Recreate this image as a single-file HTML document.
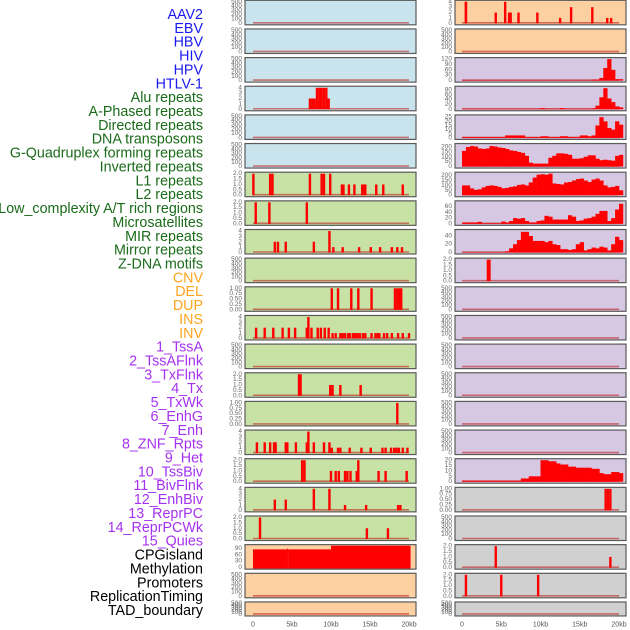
<!DOCTYPE html>
<html><head><meta charset="utf-8">
<style>
html,body{margin:0;padding:0;background:#fff;}
svg{display:block;font-family:"Liberation Sans",sans-serif;}
</style></head>
<body>
<svg id="chart" width="630" height="630" viewBox="0 0 630 630" xmlns="http://www.w3.org/2000/svg"></svg>
<script>
// ---------- data ----------
const labelNames=["AAV2","EBV","HBV","HIV","HPV","HTLV-1","Alu repeats","A-Phased repeats","Directed repeats","DNA transposons","G-Quadruplex forming repeats","Inverted repeats","L1 repeats","L2 repeats","Low_complexity A/T rich regions","Microsatellites","MIR repeats","Mirror repeats","Z-DNA motifs","CNV","DEL","DUP","INS","INV","1_TssA","2_TssAFlnk","3_TxFlnk","4_Tx","5_TxWk","6_EnhG","7_Enh","8_ZNF_Rpts","9_Het","10_TssBiv","11_BivFlnk","12_EnhBiv","13_ReprPC","14_ReprPCWk","15_Quies","CPGisland","Methylation","Promoters","ReplicationTiming","TAD_boundary"];
const xTickKb=[0,5,10,15,20];
const xTickLabels=["0","5kb","10kb","15kb","20kb"];
const ticksEmpty=[0,100,200,300,400,500];
const ticks4=[0,1,2,3,4];
const ticks2=[0,0.5,1,1.5,2];
const ticks1=[0,0.25,0.5,0.75,1];

const r0RPos=[0.5,0.5,4.3,5.5,6.0,6.2,7.2,9.6,12.5,13.9,16.6,18.5,19.0];
const r0RVal=[4,4,2,4,2,2,2,2,1,3,3,1,1];
const r3LPos=[7.3,7.6,7.9,8.2,8.5,8.8,9.1,9.4,9.7];
const r3LVal=[2,2,2,4,4,4,4,4,2];
const r6LPos=[0.05,2.2,2.5,7.3,8.8,9.1,9.9,11.4,11.6,12.3,13.0,14.0,14.2,14.4,15.8,16.7,19.2];
const r6LVal=[2,2,2,2,2,2,2,1,1,1,1,1,1,1,1,1,1];
const r7LPos=[0.35,2.1,6.9];
const r7LVal=[2,2,2];
const r8LPos=[2.8,3.2,4.2,7.8,9.8,10.3,11.5,13.6,15.1,16.3,17.8,18.5,19.1];
const r8LVal=[2,2,2,2,4,1,1,1,1,1,1,1,1];
const r9RPos=[3.3,3.5];
const r9RVal=[2,2];
const r10LPos=[10.1,10.9,12.6,13.5,15.2,18.2,18.5,18.8,19.0];
const r10LVal=[1,1,1,1,1,1,1,1,1];
const r11LPos=[0.4,1.5,2.6,3.8,4.6,5.4,6.9,7.1,7.5,8.3,8.7,9.2,9.7,10.2,10.6,11.2,11.5,11.8,12.2,12.4,12.8,13.1,13.4,13.7,14.1,14.4,15.2,15.7,16.0,16.2,16.8,17.2,17.8,18.6,19.2,20.0];
const r11LVal=[2,2,2,2,2,2,2,4,2,2,2,2,2,1,1,1,1,1,1,1,1,1,1,1,1,1,1,1,1,1,1,1,1,1,1,1];
const r13LPos=[5.9,6.1,9.9,10.2,11.2,13.8];
const r13LVal=[2,2,1,1,1,1];
const r14LPos=[18.5];
const r14LVal=[1];
const r15LPos=[0.5,1.5,2.2,2.7,2.9,4.2,4.4,5.5,6.9,7.1,7.8,9.1,9.8,10.1,10.9,11.2,12.4,13.9,15.1,16.6,17.0,17.7,18.1,18.4,18.7,19.2,19.8];
const r15LVal=[2,2,2,2,2,2,2,2,2,4,2,2,2,1,1,1,1,1,1,1,1,1,1,1,1,1,1];
const r16LPos=[6.3,6.6,10.0,10.6,11.0,11.8,12.1,12.5,13.3,13.5,16.1,17.0,19.7];
const r16LVal=[2,2,1,1,1,1,1,1,1,2,1,1,1];
const r17LPos=[2.8,4.2,7.8,9.8,11.8,14.5,18.6,18.9];
const r17LVal=[2,2,4,4,1,1,1,1];
const r17RPos=[18.3,18.6,18.9];
const r17RVal=[1,1,1];
const r18LPos=[0.9,14.6,17.3];
const r18LVal=[2,1,1];
const r19RPos=[4.3,18.9];
const r19RVal=[2,1];
const r20RPos=[0.5,5.0,9.7];
const r20RVal=[2,2,2];
const cpgStart=[0,4.35,4.5,10];
const cpgEnd=[4.35,4.5,10,20.2];
const cpgVal=[85,88,85,102];

const r2RProf=[2,2,2,2,2,2,2,2,2,2,2,2,2,2,2,2,2,2,2,2,2,2,2,2,2,2,2,2,2,2,2,2,2,5,5,15,70,120,60,8,8];
const r3RProf=[2,2,2,2,2,2,2,2,2,2,2,2,2,2,2,2,2,2,2,2,5,2,2,2,2,5,2,2,2,2,2,2,2,4,15,50,88,45,30,12,8];
const r4RProf=[1,1,1,1,1,1,1,1,1,1,1,3,3,3,3,3,1,1,1,1,2,2,1,1,1,2,2,1,1,1,3,3,2,3,15,25,20,12,10,20,16];
const r5RProf=[160,200,210,205,185,180,185,210,205,195,190,180,165,160,150,140,110,40,30,30,30,30,90,110,135,135,130,120,80,80,85,100,115,115,80,65,70,65,60,110,120];
const r6RProf=[100,100,70,55,60,80,95,100,95,85,70,75,85,90,105,110,100,130,180,210,215,210,220,120,115,110,130,135,150,165,170,150,135,160,170,150,100,80,85,95,50];
const r7RProf=[5,5,5,5,7,2,2,2,2,2,8,5,10,20,18,20,10,5,5,10,12,28,25,15,15,15,15,30,25,10,12,18,20,25,35,45,45,10,20,50,70];
const r8RProf=[1,1,1,1,1,1,1,1,1,1,1,3,10,20,30,50,50,40,28,28,28,25,28,20,18,8,8,6,8,20,25,5,8,12,10,14,12,5,20,38,30];
const r16RProf=[1,1,1,1,1,1,1,1,1,1,1,1,1,1,1,3,3,5,5,5,20,20,19,19,17,16,16,14,14,13,13,13,13,12,12,8,7,7,9,9,8];

const BG={blue:"#c9e4ec",green:"#c8e1a5",peach:"#fdd0a1",purple:"#d6c7e3",gray:"#d0d0d0"};
const panels=[
 {row:0,side:0,bg:"blue",ymax:500,ticks:ticksEmpty},
 {row:0,side:1,bg:"peach",ymax:4,ticks:ticks4,pos:r0RPos,val:r0RVal},
 {row:1,side:0,bg:"blue",ymax:500,ticks:ticksEmpty},
 {row:1,side:1,bg:"peach",ymax:500,ticks:ticksEmpty},
 {row:2,side:0,bg:"blue",ymax:500,ticks:ticksEmpty},
 {row:2,side:1,bg:"purple",ymax:120,ticks:[0,30,60,90,120],prof:r2RProf},
 {row:3,side:0,bg:"blue",ymax:4,ticks:ticks4,pos:r3LPos,val:r3LVal},
 {row:3,side:1,bg:"purple",ymax:90,ticks:[0,20,40,60,80],prof:r3RProf},
 {row:4,side:0,bg:"blue",ymax:500,ticks:ticksEmpty},
 {row:4,side:1,bg:"purple",ymax:26,ticks:[0,5,10,15,20,25],prof:r4RProf},
 {row:5,side:0,bg:"blue",ymax:500,ticks:ticksEmpty},
 {row:5,side:1,bg:"purple",ymax:220,ticks:[0,50,100,150,200],prof:r5RProf},
 {row:6,side:0,bg:"green",ymax:2,ticks:ticks2,pos:r6LPos,val:r6LVal},
 {row:6,side:1,bg:"purple",ymax:220,ticks:[0,50,100,150,200],prof:r6RProf},
 {row:7,side:0,bg:"green",ymax:2,ticks:ticks2,pos:r7LPos,val:r7LVal},
 {row:7,side:1,bg:"purple",ymax:75,ticks:[0,20,40,60],prof:r7RProf},
 {row:8,side:0,bg:"green",ymax:4,ticks:ticks4,pos:r8LPos,val:r8LVal},
 {row:8,side:1,bg:"purple",ymax:52,ticks:[0,20,40],prof:r8RProf},
 {row:9,side:0,bg:"green",ymax:500,ticks:ticksEmpty},
 {row:9,side:1,bg:"purple",ymax:2,ticks:ticks2,pos:r9RPos,val:r9RVal},
 {row:10,side:0,bg:"green",ymax:1,ticks:ticks1,pos:r10LPos,val:r10LVal},
 {row:10,side:1,bg:"purple",ymax:500,ticks:ticksEmpty},
 {row:11,side:0,bg:"green",ymax:4,ticks:ticks4,pos:r11LPos,val:r11LVal},
 {row:11,side:1,bg:"purple",ymax:500,ticks:ticksEmpty},
 {row:12,side:0,bg:"green",ymax:500,ticks:ticksEmpty},
 {row:12,side:1,bg:"purple",ymax:500,ticks:ticksEmpty},
 {row:13,side:0,bg:"green",ymax:2,ticks:ticks2,pos:r13LPos,val:r13LVal},
 {row:13,side:1,bg:"purple",ymax:500,ticks:ticksEmpty},
 {row:14,side:0,bg:"green",ymax:1,ticks:ticks1,pos:r14LPos,val:r14LVal},
 {row:14,side:1,bg:"purple",ymax:500,ticks:ticksEmpty},
 {row:15,side:0,bg:"green",ymax:4,ticks:ticks4,pos:r15LPos,val:r15LVal},
 {row:15,side:1,bg:"purple",ymax:500,ticks:ticksEmpty},
 {row:16,side:0,bg:"green",ymax:2,ticks:ticks2,pos:r16LPos,val:r16LVal},
 {row:16,side:1,bg:"purple",ymax:20,ticks:[0,5,10,15,20],prof:r16RProf},
 {row:17,side:0,bg:"green",ymax:4,ticks:ticks4,pos:r17LPos,val:r17LVal},
 {row:17,side:1,bg:"gray",ymax:1,ticks:ticks1,pos:r17RPos,val:r17RVal},
 {row:18,side:0,bg:"green",ymax:2,ticks:ticks2,pos:r18LPos,val:r18LVal},
 {row:18,side:1,bg:"gray",ymax:500,ticks:ticksEmpty},
 {row:19,side:0,bg:"peach",ymax:100,ticks:[0,30,60,90],cpg:true},
 {row:19,side:1,bg:"gray",ymax:2,ticks:ticks2,pos:r19RPos,val:r19RVal},
 {row:20,side:0,bg:"peach",ymax:500,ticks:ticksEmpty},
 {row:20,side:1,bg:"gray",ymax:2,ticks:ticks2,pos:r20RPos,val:r20RVal},
 {row:21,side:0,bg:"peach",ymax:500,ticks:ticksEmpty,short:true},
 {row:21,side:1,bg:"gray",ymax:500,ticks:ticksEmpty,short:true}
];
const labelColors=["#1a1af0","#1a6b1a","#ffa51f","#a531f0","#000"];
function labelColor(i){return i<6?labelColors[0]:i<19?labelColors[1]:i<24?labelColors[2]:i<39?labelColors[3]:labelColors[4];}

const NS="http://www.w3.org/2000/svg";
const svg=document.getElementById("chart");
function mk(tag,attrs,parent){const e=document.createElementNS(NS,tag);for(const k in attrs)e.setAttribute(k,attrs[k]);(parent||svg).appendChild(e);return e;}

labelNames.forEach((t,i)=>{
  const e=mk("text",{x:203,y:15+i*13.86,"text-anchor":"end","dominant-baseline":"central","font-size":"14.3",fill:labelColor(i)});
  e.textContent=t;
  
  
});

const PL=[245,455], PW=171, ROWH=28.65;
function xs(side,kb){return (side?462:253)+kb*(side?7.85:7.8);}
function fmt(t,ticks){
  const step=ticks[1]-ticks[0];
  if(step===0.25)return t.toFixed(2);
  if(step===0.5)return t.toFixed(1);
  return String(t);
}
panels.forEach((p)=>{
  const T=p.row*ROWH+0.3, H=p.short?14:24.5;
  const x0=PL[p.side];
  const g=mk("g",{});
  
  
  mk("rect",{x:x0,y:T,width:PW,height:H,fill:BG[p.bg]},g);
  const yb=T+H-1.5, ytop=T+1.5;
  const ys=v=>yb-(v/p.ymax)*(yb-ytop);
  mk("line",{x1:xs(p.side,0),x2:xs(p.side,20),y1:yb-0.5,y2:yb-0.5,stroke:"rgba(190,20,20,0.55)","stroke-width":"1.6"},g);
  p.ticks.forEach(t=>{
    const tt=mk("text",{x:x0-3,y:ys(t),"text-anchor":"end","dominant-baseline":"central","font-size":"6.5",fill:"#666"},g);
    tt.textContent=fmt(t,p.ticks);
  });
  const clip=mk("g",{},g);
  if(p.pos){
    p.pos.forEach((kb,i)=>{
      const x=xs(p.side,kb), y=ys(Math.min(p.val[i],p.ymax));
      const r=mk("rect",{x:x-1.2,y:Math.max(y,T),width:2.4,height:yb-Math.max(y,T),fill:"#ff0000"},clip);
      
      
    });
  }
  if(p.prof){
    p.prof.forEach((v,i)=>{
      const xa=xs(p.side,i*0.5), xb=xs(p.side,i*0.5+0.5);
      const y=Math.max(ys(v),T+1);
      const r=mk("rect",{x:xa,y:y,width:xb-xa+0.3,height:yb-y,fill:"#ff0000"},clip);
      
      
    });
  }
  if(p.cpg){
    cpgVal.forEach((v,i)=>{
      const xa=xs(p.side,cpgStart[i]), xb=xs(p.side,cpgEnd[i]);
      const y=Math.max(ys(v),T);
      const r=mk("rect",{x:xa,y:y,width:xb-xa,height:yb-y+1,fill:"#ff0000"},clip);
      
      
    });
  }
  mk("rect",{x:x0,y:T,width:PW,height:H,fill:"none",stroke:"#5a5a5a","stroke-width":"1.2"},g);
});

[0,1].forEach(side=>{
  xTickKb.forEach((kb,i)=>{
    const t=mk("text",{x:xs(side,kb),y:625,"text-anchor":"middle","dominant-baseline":"central","font-size":"7",fill:"#555"});
    t.textContent=xTickLabels[i];
    
    
  });
});
</script>
</body></html>
